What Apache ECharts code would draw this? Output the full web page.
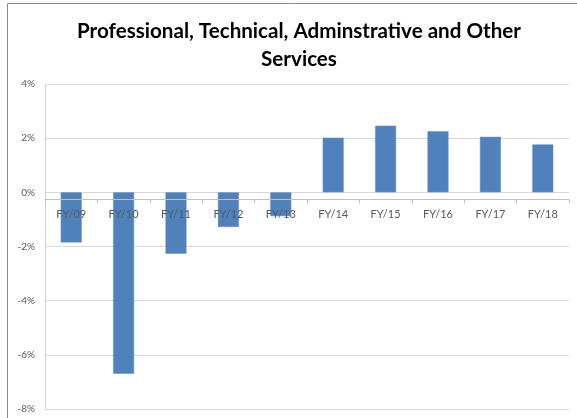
<!DOCTYPE html>
<html>
<head>
<meta charset="utf-8">
<script src="https://cdn.jsdelivr.net/npm/echarts@6/dist/echarts.min.js"></script>
<style>
  html, body { margin: 0; padding: 0; background: #fff; }
  #chart { width: 577px; height: 418px; }
</style>
</head>
<body>
<div id="chart"></div>
<script>
// Fiscal years on the category axis
const years = ['FY/09', 'FY/10', 'FY/11', 'FY/12', 'FY/13', 'FY/14', 'FY/15', 'FY/16', 'FY/17', 'FY/18'];
// Annual growth, percent
const growth = [-1.85, -6.7, -2.27, -1.28, -0.88, 2.02, 2.46, 2.26, 2.05, 1.77];
// Value axis range and step, percent
const yMin = -8;
const yMax = 4;
const yStep = 2;

const chart = echarts.init(document.getElementById('chart'), null, { renderer: 'canvas' });

chart.setOption({
  animation: false,
  backgroundColor: '#ffffff',
  title: {
    text: 'Professional, Technical, Adminstrative and Other\nServices',
    left: 294,
    textAlign: 'center',
    top: 12,
    textStyle: {
      fontFamily: 'Lato',
      fontWeight: 'bold',
      fontSize: 20.6,
      lineHeight: 28,
      color: '#000000'
    }
  },
  grid: { left: 45, right: 8, top: 84, bottom: 9, containLabel: false },
  xAxis: {
    type: 'category',
    data: years,
    z: 10,
    axisLine: { show: true, onZero: false, lineStyle: { color: '#bfbfbf', width: 1 } },
    axisTick: { show: true, alignWithLabel: false, length: 4, lineStyle: { color: '#bfbfbf' } },
    axisLabel: { margin: 9, fontFamily: 'Lato', fontSize: 11, color: '#595959' },
    splitLine: { show: false }
  },
  yAxis: {
    type: 'value',
    min: yMin,
    max: yMax,
    interval: yStep,
    axisLine: { show: true, lineStyle: { color: '#d0d0d0', width: 1 } },
    axisTick: { show: false },
    axisLabel: {
      margin: 10,
      fontFamily: 'Lato',
      fontSize: 10,
      color: '#595959',
      formatter: v => v + '%'
    },
    splitLine: { show: true, lineStyle: { color: '#d9d9d9', width: 1 } }
  },
  series: [{
    type: 'bar',
    data: growth,
    barWidth: 21,
    z: 2,
    itemStyle: { color: '#4f81bd', borderColor: '#6a95c8', borderWidth: 0.5 }
  }],
  graphic: [
    { type: 'line', shape: { x1: 7.5, y1: 3.5, x2: 577, y2: 3.5 }, style: { stroke: '#8a8a8a', lineWidth: 1 } },
    { type: 'line', shape: { x1: 7.5, y1: 3.5, x2: 7.5, y2: 418 }, style: { stroke: '#8a8a8a', lineWidth: 1 } }
  ]
});

// Lift the category axis up to the zero line of the value axis
const zeroY = chart.convertToPixel({ yAxisIndex: 0 }, 0);
const floorY = chart.convertToPixel({ yAxisIndex: 0 }, yMin);
chart.setOption({ xAxis: { offset: zeroY - floorY } });
</script>
</body>
</html>
